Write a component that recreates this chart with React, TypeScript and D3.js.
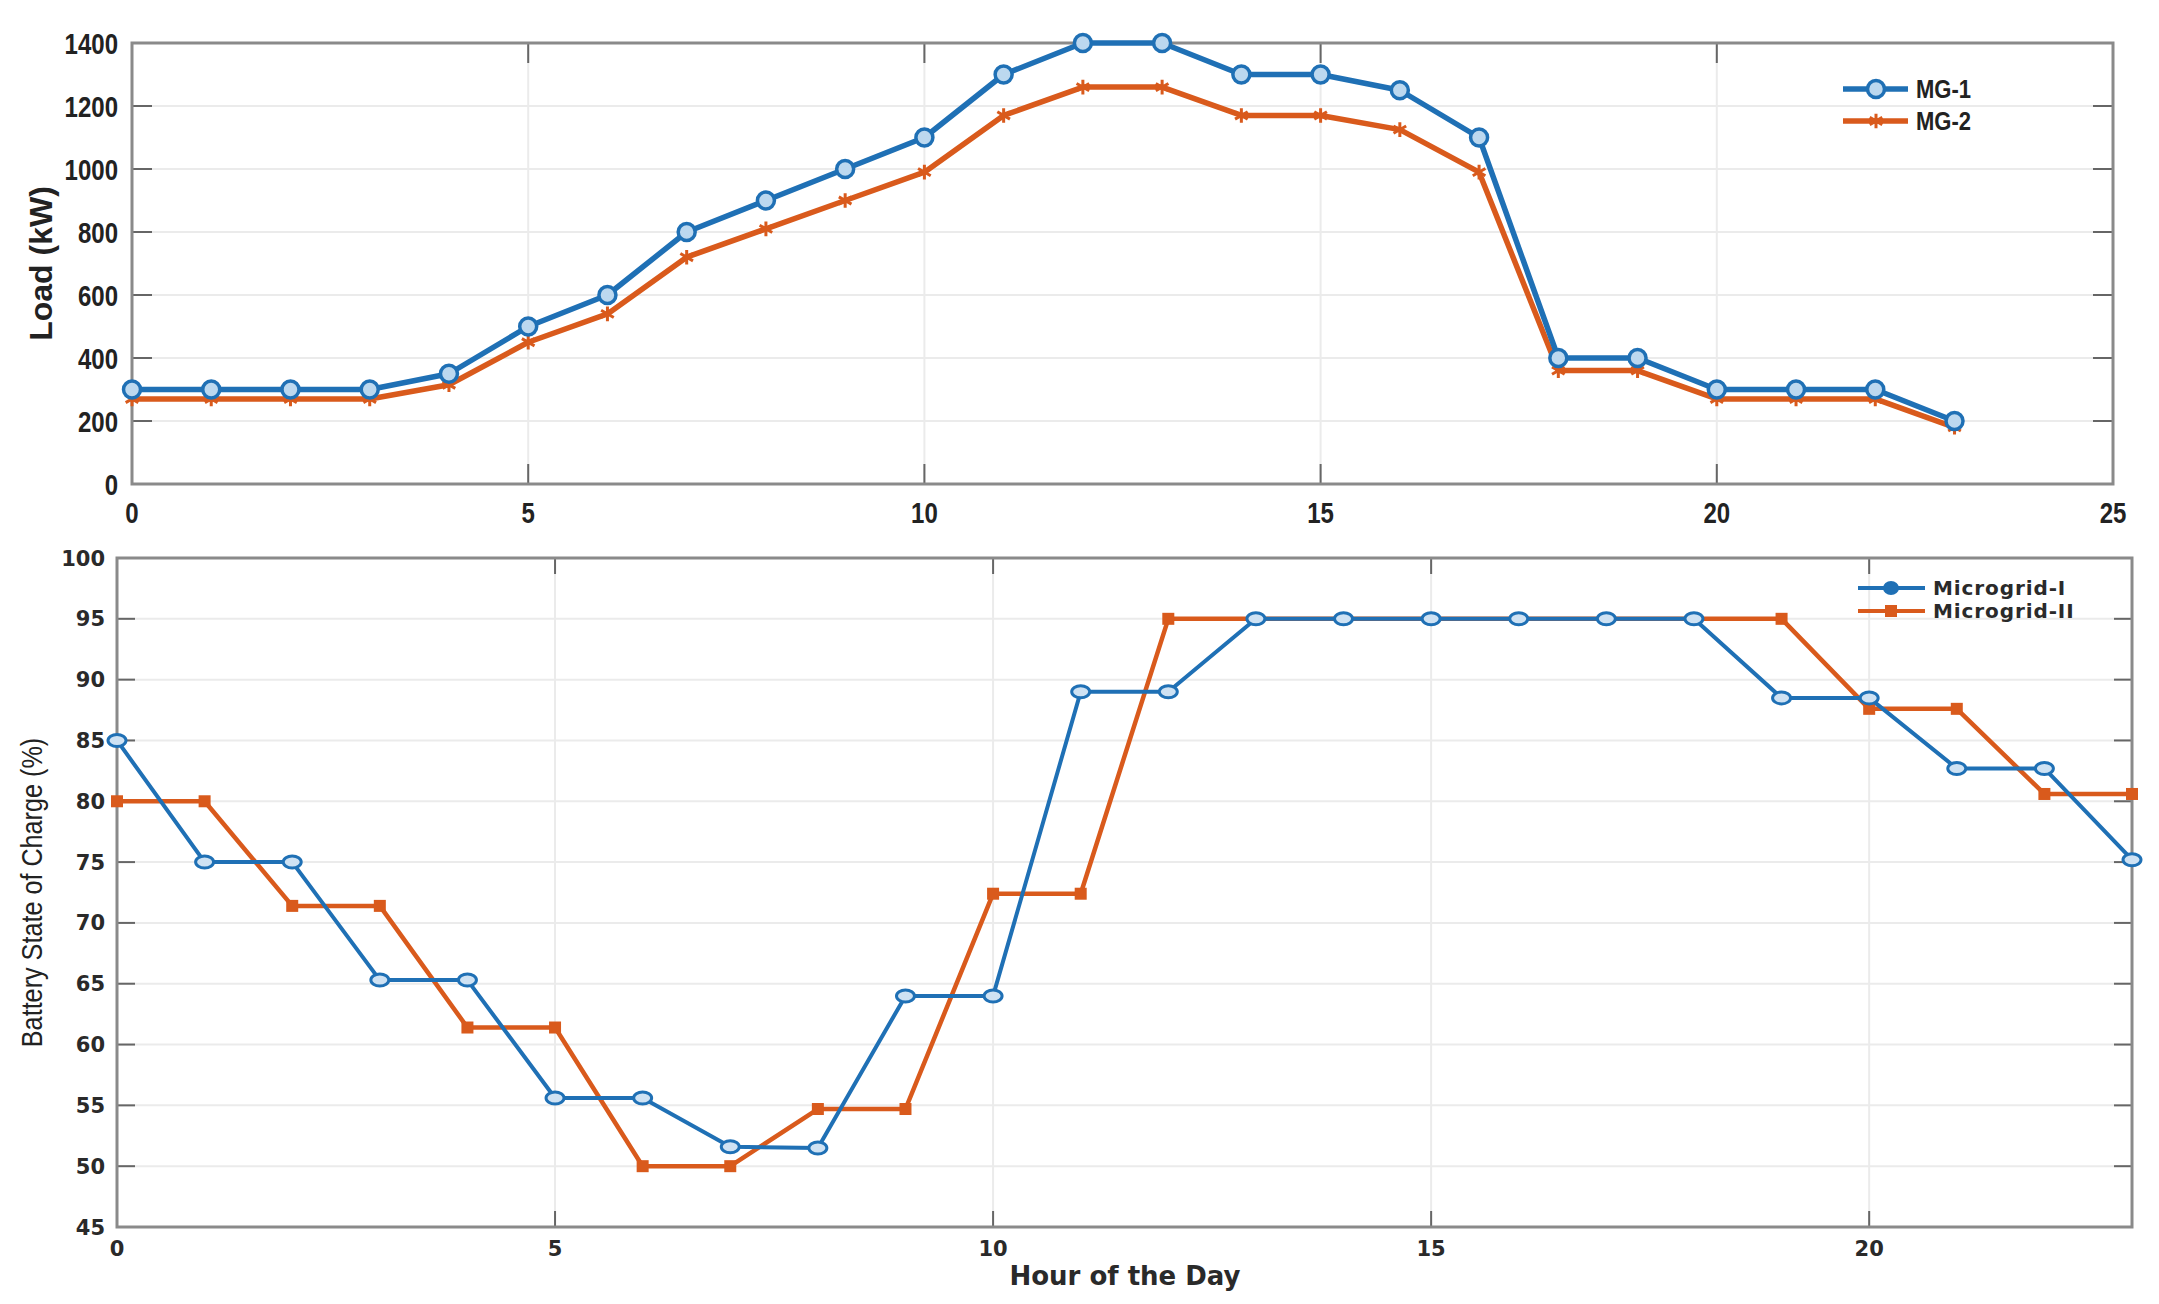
import React from "react";
import * as d3 from "d3";

// ---------- data ----------
const hours = [0, 1, 2, 3, 4, 5, 6, 7, 8, 9, 10, 11, 12, 13, 14, 15, 16, 17, 18, 19, 20, 21, 22, 23];
const mg1Load = [300, 300, 300, 300, 350, 500, 600, 800, 900, 1000, 1100, 1300, 1400, 1400, 1300, 1300, 1250, 1100, 400, 400, 300, 300, 300, 200];
const mg2Load = [270, 270, 270, 270, 315, 450, 540, 720, 810, 900, 990, 1170, 1260, 1260, 1170, 1170, 1125, 990, 360, 360, 270, 270, 270, 180];
const soc1 = [85, 75, 75, 65.3, 65.3, 55.6, 55.6, 51.6, 51.5, 64.0, 64.0, 89, 89, 95, 95, 95, 95, 95, 95, 88.5, 88.5, 82.7, 82.7, 75.2];
const soc2 = [80, 80, 71.4, 71.4, 61.4, 61.4, 50, 50, 54.7, 54.7, 72.4, 72.4, 95, 95, 95, 95, 95, 95, 95, 95, 87.6, 87.6, 80.6, 80.6];

const topXTicks = [0, 5, 10, 15, 20, 25];
const topYTicks = [0, 200, 400, 600, 800, 1000, 1200, 1400];
const botXTicks = [0, 5, 10, 15, 20];
const botYTicks = [45, 50, 55, 60, 65, 70, 75, 80, 85, 90, 95, 100];

const topSeries = ["MG-1", "MG-2"];
const botSeries = ["Microgrid-I", "Microgrid-II"];

const BLUE = "#1f70b5";
const ORANGE = "#d95a1c";
const GRID = "#ebebeb";
const AXIS = "#8a8a8a";
const TICK = "#666";
const ARIAL = "'Liberation Sans', Arial, sans-serif";
const WIDE = "'DejaVu Sans', Verdana, sans-serif";

// condensed text: horizontal squeeze through a transform
function NText(props: {
  x: number; y: number; anchor: string; size: number; sx: number;
  bold?: boolean; rotate?: number; children: React.ReactNode;
}) {
  const { x, y, anchor, size, sx, bold, rotate, children } = props;
  return (
    <text
      transform={`translate(${x},${y}) rotate(${rotate || 0}) scale(${sx},1)`}
      textAnchor={anchor}
      dy="0.36em"
      fontFamily={ARIAL}
      fontWeight={bold ? "bold" : "normal"}
      fontSize={size}
      fill="#222"
    >
      {children}
    </text>
  );
}

export default function App() {
  const tx = d3.scaleLinear().domain([0, 25]).range([132, 2113]);
  const ty = d3.scaleLinear().domain([0, 1400]).range([484, 43]);
  const bx = d3.scaleLinear().domain([0, 23]).range([117, 2132]);
  const by = d3.scaleLinear().domain([45, 100]).range([1227, 558]);

  const topLine = (vals: number[]) =>
    d3.line<number>().x((_, i) => tx(hours[i])).y((v) => ty(v))(vals) || "";
  const botLine = (vals: number[]) =>
    d3.line<number>().x((_, i) => bx(hours[i])).y((v) => by(v))(vals) || "";

  const star = d3.symbol().type(d3.symbolAsterisk).size(150)() || "";

  const [tL, tR] = tx.range();
  const [tB, tT] = ty.range();
  const [bL, bR] = bx.range();
  const [bB, bT] = by.range();

  return (
    <svg width={2159} height={1304} style={{ position: "absolute", left: 0, top: 0, background: "#fff" }}>
      <rect x={0} y={0} width={2159} height={1304} fill="#fff" />

      {/* ================= TOP CHART ================= */}
      <g>
        {topYTicks.filter((t) => t > 0 && t < 1400).map((t) => (
          <line key={"tgy" + t} x1={tL} x2={tR} y1={ty(t)} y2={ty(t)} stroke={GRID} strokeWidth={2} />
        ))}
        {topXTicks.filter((t) => t > 0 && t < 25).map((t) => (
          <line key={"tgx" + t} x1={tx(t)} x2={tx(t)} y1={tT} y2={tB} stroke={GRID} strokeWidth={2} />
        ))}
        {topYTicks.filter((t) => t > 0 && t < 1400).map((t) => (
          <g key={"tty" + t}>
            <line x1={tL} x2={tL + 20} y1={ty(t)} y2={ty(t)} stroke={TICK} strokeWidth={2} />
            <line x1={tR} x2={tR - 20} y1={ty(t)} y2={ty(t)} stroke={TICK} strokeWidth={2} />
          </g>
        ))}
        {topXTicks.filter((t) => t > 0 && t < 25).map((t) => (
          <g key={"ttx" + t}>
            <line x1={tx(t)} x2={tx(t)} y1={tB} y2={tB - 20} stroke={TICK} strokeWidth={2} />
            <line x1={tx(t)} x2={tx(t)} y1={tT} y2={tT + 20} stroke={TICK} strokeWidth={2} />
          </g>
        ))}
        <rect x={tL} y={tT} width={tR - tL} height={tB - tT} fill="none" stroke={AXIS} strokeWidth={3} />

        {topYTicks.map((t) => (
          <NText key={"tly" + t} x={tL - 14} y={ty(t)} anchor="end" size={30} sx={0.8} bold>{t}</NText>
        ))}
        {topXTicks.map((t) => (
          <NText key={"tlx" + t} x={tx(t)} y={512} anchor="middle" size={30} sx={0.8} bold>{t}</NText>
        ))}
        <text transform={`translate(40,${(tT + tB) / 2}) rotate(-90)`} textAnchor="middle" dy="0.36em"
          fontFamily={ARIAL} fontWeight="bold" fontSize={32} fill="#222">Load (kW)</text>

        <path d={topLine(mg2Load)} fill="none" stroke={ORANGE} strokeWidth={5.5} strokeLinejoin="round" />
        {mg2Load.map((v, i) => (
          <path key={"m2" + i} d={star} transform={`translate(${tx(hours[i])},${ty(v)})`}
            fill="none" stroke={ORANGE} strokeWidth={3} />
        ))}
        <path d={topLine(mg1Load)} fill="none" stroke={BLUE} strokeWidth={5.5} strokeLinejoin="round" />
        {mg1Load.map((v, i) => (
          <circle key={"m1" + i} cx={tx(hours[i])} cy={ty(v)} r={8.5} fill="#bcd8ef" stroke={BLUE} strokeWidth={3.5} />
        ))}

        {topSeries.map((s, i) => {
          const y = 89 + i * 32;
          const c = i === 0 ? BLUE : ORANGE;
          return (
            <g key={"tleg" + s}>
              <line x1={1843} x2={1908} y1={y} y2={y} stroke={c} strokeWidth={5.5} />
              {i === 0 ? (
                <circle cx={1876} cy={y} r={8.5} fill="#bcd8ef" stroke={BLUE} strokeWidth={3.5} />
              ) : (
                <path d={star} transform={`translate(1876,${y})`} fill="none" stroke={ORANGE} strokeWidth={3} />
              )}
              <NText x={1916} y={y} anchor="start" size={25} sx={0.88} bold>{s}</NText>
            </g>
          );
        })}
      </g>

      {/* ================= BOTTOM CHART ================= */}
      <g>
        {botYTicks.filter((t) => t > 45 && t < 100).map((t) => (
          <line key={"bgy" + t} x1={bL} x2={bR} y1={by(t)} y2={by(t)} stroke={GRID} strokeWidth={2} />
        ))}
        {botXTicks.filter((t) => t > 0).map((t) => (
          <line key={"bgx" + t} x1={bx(t)} x2={bx(t)} y1={bT} y2={bB} stroke={GRID} strokeWidth={2} />
        ))}
        {botYTicks.filter((t) => t > 45 && t < 100).map((t) => (
          <g key={"bty" + t}>
            <line x1={bL} x2={bL + 18} y1={by(t)} y2={by(t)} stroke={TICK} strokeWidth={2} />
            <line x1={bR} x2={bR - 18} y1={by(t)} y2={by(t)} stroke={TICK} strokeWidth={2} />
          </g>
        ))}
        {botXTicks.filter((t) => t > 0).map((t) => (
          <g key={"btx" + t}>
            <line x1={bx(t)} x2={bx(t)} y1={bB} y2={bB - 16} stroke={TICK} strokeWidth={2} />
            <line x1={bx(t)} x2={bx(t)} y1={bT} y2={bT + 16} stroke={TICK} strokeWidth={2} />
          </g>
        ))}
        <rect x={bL} y={bT} width={bR - bL} height={bB - bT} fill="none" stroke={AXIS} strokeWidth={3} />

        {botYTicks.map((t) => (
          <text key={"bly" + t} x={bL - 12} y={by(t)} dy="0.36em" textAnchor="end"
            fontFamily={WIDE} fontWeight="bold" fontSize={21} fill="#2a2a2a">{t}</text>
        ))}
        {botXTicks.map((t) => (
          <text key={"blx" + t} x={bx(t)} y={1248} dy="0.36em" textAnchor="middle"
            fontFamily={WIDE} fontWeight="bold" fontSize={21} fill="#2a2a2a">{t}</text>
        ))}
        <text x={1125} y={1276} dy="0.36em" textAnchor="middle"
          fontFamily={WIDE} fontWeight="bold" fontSize={26} fill="#2a2a2a">Hour of the Day</text>
        <NText x={31} y={(bT + bB) / 2} anchor="middle" size={30} sx={0.84} rotate={-90}>Battery State of Charge (%)</NText>

        <path d={botLine(soc2)} fill="none" stroke={ORANGE} strokeWidth={4.5} strokeLinejoin="round" />
        {soc2.map((v, i) => (
          <rect key={"s2" + i} x={bx(hours[i]) - 6} y={by(v) - 6} width={12} height={12} fill={ORANGE} />
        ))}
        <path d={botLine(soc1)} fill="none" stroke={BLUE} strokeWidth={4} strokeLinejoin="round" />
        {soc1.map((v, i) => (
          <ellipse key={"s1" + i} cx={bx(hours[i])} cy={by(v)} rx={9} ry={6} fill="#cfe2f3" stroke={BLUE} strokeWidth={3} />
        ))}

        {botSeries.map((s, i) => {
          const y = 588 + i * 23;
          const c = i === 0 ? BLUE : ORANGE;
          return (
            <g key={"bleg" + s}>
              <line x1={1858} x2={1925} y1={y} y2={y} stroke={c} strokeWidth={4} />
              {i === 0 ? (
                <ellipse cx={1891} cy={y} rx={7} ry={6} fill={BLUE} stroke={BLUE} strokeWidth={2} />
              ) : (
                <rect x={1885} y={y - 6} width={12} height={12} fill={ORANGE} />
              )}
              <text x={1933} y={y} dy="0.36em" fontFamily={WIDE} fontWeight="bold" fontSize={20}
                letterSpacing={0.9} fill="#2a2a2a">{s}</text>
            </g>
          );
        })}
      </g>
    </svg>
  );
}
